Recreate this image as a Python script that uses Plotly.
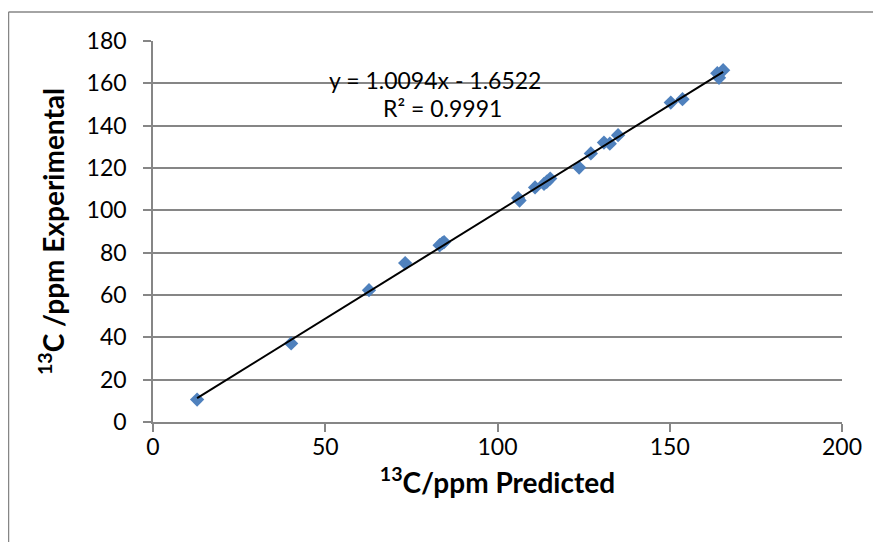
import plotly.graph_objects as go

# Data
predicted = [12.8, 40.1, 62.7, 73.2, 83.2, 84.0, 84.5, 106.0, 106.4, 110.9,
             113.5, 114.3, 115.3, 123.7, 127.1, 130.9, 132.6, 135.0,
             150.3, 153.7, 163.8, 165.5, 164.3]
experimental = [10.6, 37.1, 62.3, 75.1, 83.5, 84.5, 85.0, 105.8, 104.6, 110.8,
                112.5, 113.5, 115.0, 120.2, 126.9, 132.0, 131.5, 135.5,
                150.9, 152.5, 164.8, 166.2, 162.6]
SLOPE = 1.0094
INTERCEPT = -1.6522
R2 = 0.9991
x_ticks = [0, 50, 100, 150, 200]
y_ticks = [0, 20, 40, 60, 80, 100, 120, 140, 160, 180]

FONT = "Lato"
GRAY = "#868686"

fit_x = [min(predicted), max(predicted)]
fit_y = [SLOPE * v + INTERCEPT for v in fit_x]

fig = go.Figure()
fig.add_trace(go.Scatter(
    x=predicted, y=experimental, mode="markers",
    marker=dict(symbol="diamond", size=11, color="#4F81BD"),
    showlegend=False, hoverinfo="skip"))
fig.add_trace(go.Scatter(
    x=fit_x, y=fit_y, mode="lines",
    line=dict(color="black", width=2),
    showlegend=False, hoverinfo="skip"))

OFF = 8  # page offset of the figure in the browser
W, H = 881 - OFF, 542 - OFF
L, R, T, B = 153 - OFF, 39, 41 - OFF, 120
pw, ph = W - L - R, H - T - B

def px_x(p):
    return (p - OFF - L) / pw

def px_y(p):
    return (H + OFF - B - p) / ph

fig.update_layout(
    width=W, height=H,
    margin=dict(l=L, r=R, t=T, b=B),
    paper_bgcolor="white", plot_bgcolor="white",
    font=dict(family=FONT, size=23, color="black"),
    xaxis=dict(range=[0, 200], tickvals=x_ticks, showgrid=False,
               showline=True, linecolor=GRAY, linewidth=1.5,
               ticks="outside", ticklen=8, tickcolor=GRAY, tickwidth=1.5,
               zeroline=False, ticklabelstandoff=-4,
               title=dict(text="<b><sup>13</sup>C/ppm Predicted</b>",
                          font=dict(family=FONT, size=28), standoff=14)),
    yaxis=dict(range=[0, 180], tickvals=y_ticks, showgrid=True,
               gridcolor=GRAY, gridwidth=1.5,
               showline=True, linecolor=GRAY, linewidth=1.5,
               ticks="outside", ticklen=8, tickcolor=GRAY, tickwidth=1.5,
               zeroline=False, ticklabelstandoff=12,
               title=dict(text="<b><sup>13</sup>C /ppm Experimental</b>",
                          font=dict(family=FONT, size=28), standoff=14)),
    annotations=[
        dict(x=px_x(435), y=px_y(80), xref="paper", yref="paper",
             text=f"y = {SLOPE:.4f}x - {abs(INTERCEPT):.4f}", showarrow=False,
             font=dict(family=FONT, size=23), xanchor="center", yanchor="middle"),
        dict(x=px_x(442), y=px_y(108), xref="paper", yref="paper",
             text=f"R² = {R2:.4f}", showarrow=False,
             font=dict(family=FONT, size=23), xanchor="center", yanchor="middle"),
    ],
    shapes=[
        dict(type="line", xref="paper", yref="paper",
             x0=px_x(8.5), x1=px_x(8.5), y0=px_y(560), y1=px_y(12),
             line=dict(color=GRAY, width=1.5)),
        dict(type="line", xref="paper", yref="paper",
             x0=px_x(8.5), x1=px_x(900), y0=px_y(12), y1=px_y(12),
             line=dict(color=GRAY, width=1.5)),
    ],
)

fig.write_html("out.html")
